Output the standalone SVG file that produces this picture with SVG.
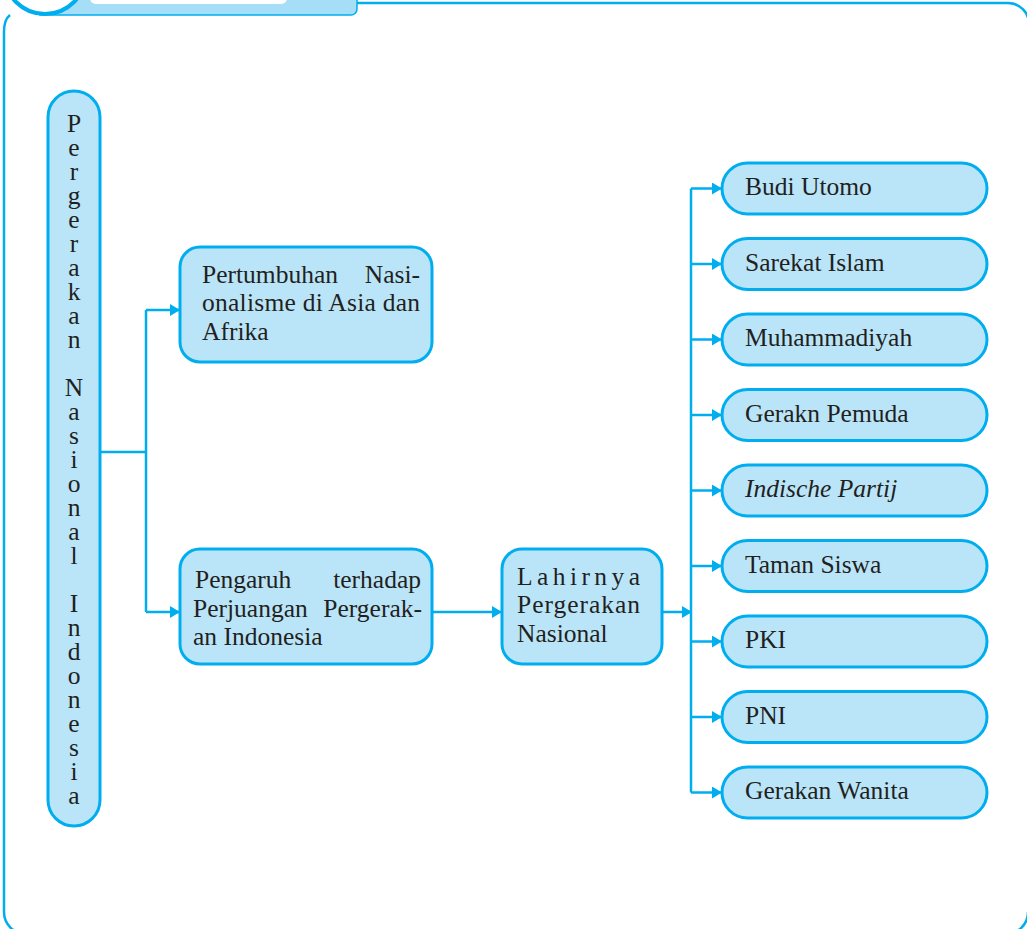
<svg xmlns="http://www.w3.org/2000/svg" width="1027" height="929" viewBox="0 0 1027 929">
<style>
.box{fill:#bae5f9;stroke:#00aeef;stroke-width:3}
.t{font-family:"Liberation Serif","DejaVu Serif",serif;font-size:25.5px;fill:#231f20}
.c{fill:none;stroke:#00aeef;stroke-width:2.5}
.frame{fill:none;stroke:#00aeef;stroke-width:2.5}
</style>
<defs>
<marker id="ah" markerUnits="userSpaceOnUse" markerWidth="10" markerHeight="12" refX="10" refY="6" orient="auto">
<path d="M0,0 L10,6 L0,12 z" fill="#00aeef"/>
</marker>
</defs>
<rect width="1027" height="929" fill="#ffffff"/>
<g id="frame">
<path class="frame" d="M10,15 C6,18 4,22 4,32 V912 A22 22 0 0 0 26 934 H1006 A22 22 0 0 0 1028 912"/>
<path class="frame" d="M355,3 H1008 A21 21 0 0 1 1029 24"/>
<path d="M40,-10 H357 V9 A6 6 0 0 1 351 15 H40 Z" fill="#a6def7" stroke="#00aeef" stroke-width="1.5"/>
<path d="M90,-10 H287 V-2 A6 6 0 0 1 281 4 H96 A6 6 0 0 1 90 -2 Z" fill="#ffffff"/>
<circle cx="45" cy="-27" r="41" fill="#ffffff" stroke="#00aeef" stroke-width="4"/>
</g>
<g id="connectors">
<path class="c" d="M100,452 H146 M146,310 V612 M691,188.5 V792.5"/>
<path class="c" d="M146,310 H180" marker-end="url(#ah)"/>
<path class="c" d="M146,612 H180" marker-end="url(#ah)"/>
<path class="c" d="M432,612 H502" marker-end="url(#ah)"/>
<path class="c" d="M662,612 H692" marker-end="url(#ah)"/>
<path class="c" d="M691,188.5 H722" marker-end="url(#ah)"/>
<path class="c" d="M691,264 H722" marker-end="url(#ah)"/>
<path class="c" d="M691,339.5 H722" marker-end="url(#ah)"/>
<path class="c" d="M691,415 H722" marker-end="url(#ah)"/>
<path class="c" d="M691,490.5 H722" marker-end="url(#ah)"/>
<path class="c" d="M691,566 H722" marker-end="url(#ah)"/>
<path class="c" d="M691,641.5 H722" marker-end="url(#ah)"/>
<path class="c" d="M691,717 H722" marker-end="url(#ah)"/>
<path class="c" d="M691,792.5 H722" marker-end="url(#ah)"/>
</g>
<g id="n-root">
<rect class="box" x="48" y="91" width="52" height="735" rx="26"/>
<text class="t" text-anchor="middle" x="74 74 74 74 74 74 74 74 74 74 74 74 74 74 74 74 74 74 74 74 74 74 74 74 74 74 74 74 74" y="132 156 180 204 228 252 276 300 324 348 372 396 420 444 468 492 516 540 564 588 612 636 660 684 708 732 756 780 804">Pergerakan Nasional Indonesia</text>
</g>
<g id="n-pertumbuhan">
<rect class="box" x="180" y="247" width="252" height="115" rx="20"/>
<text class="t" x="202" y="283">Pertumbuhan</text>
<text class="t" x="420" y="283" text-anchor="end">Nasi-</text>
<text class="t" x="202" y="311" textLength="218" lengthAdjust="spacing">onalisme di Asia dan</text>
<text class="t" x="202" y="340">Afrika</text>
</g>
<g id="n-pengaruh">
<rect class="box" x="180" y="549" width="252" height="115" rx="20"/>
<text class="t" x="195" y="588">Pengaruh</text>
<text class="t" x="421" y="588" text-anchor="end">terhadap</text>
<text class="t" x="193" y="617">Perjuangan</text>
<text class="t" x="422" y="617" text-anchor="end">Pergerak-</text>
<text class="t" x="193" y="645">an Indonesia</text>
</g>
<g id="n-lahirnya">
<rect class="box" x="502" y="549" width="160" height="115" rx="20"/>
<text class="t" x="517" y="585" textLength="123" lengthAdjust="spacing">Lahirnya</text>
<text class="t" x="517" y="613" textLength="123" lengthAdjust="spacing">Pergerakan</text>
<text class="t" x="517" y="642">Nasional</text>
</g>
<g id="n-budi"><rect class="box" x="722" y="163" width="265" height="51" rx="25.5"/><text class="t" x="745" y="195">Budi Utomo</text></g>
<g id="n-sarekat"><rect class="box" x="722" y="238.5" width="265" height="51" rx="25.5"/><text class="t" x="745" y="270.5">Sarekat Islam</text></g>
<g id="n-muhammadiyah"><rect class="box" x="722" y="314" width="265" height="51" rx="25.5"/><text class="t" x="745" y="346">Muhammadiyah</text></g>
<g id="n-pemuda"><rect class="box" x="722" y="389.5" width="265" height="51" rx="25.5"/><text class="t" x="745" y="421.5">Gerakn Pemuda</text></g>
<g id="n-indische"><rect class="box" x="722" y="465" width="265" height="51" rx="25.5"/><text class="t" x="745" y="497" font-style="italic">Indische Partij</text></g>
<g id="n-taman"><rect class="box" x="722" y="540.5" width="265" height="51" rx="25.5"/><text class="t" x="745" y="572.5">Taman Siswa</text></g>
<g id="n-pki"><rect class="box" x="722" y="616" width="265" height="51" rx="25.5"/><text class="t" x="745" y="648">PKI</text></g>
<g id="n-pni"><rect class="box" x="722" y="691.5" width="265" height="51" rx="25.5"/><text class="t" x="745" y="723.5">PNI</text></g>
<g id="n-wanita"><rect class="box" x="722" y="767" width="265" height="51" rx="25.5"/><text class="t" x="745" y="799">Gerakan Wanita</text></g>
</svg>
